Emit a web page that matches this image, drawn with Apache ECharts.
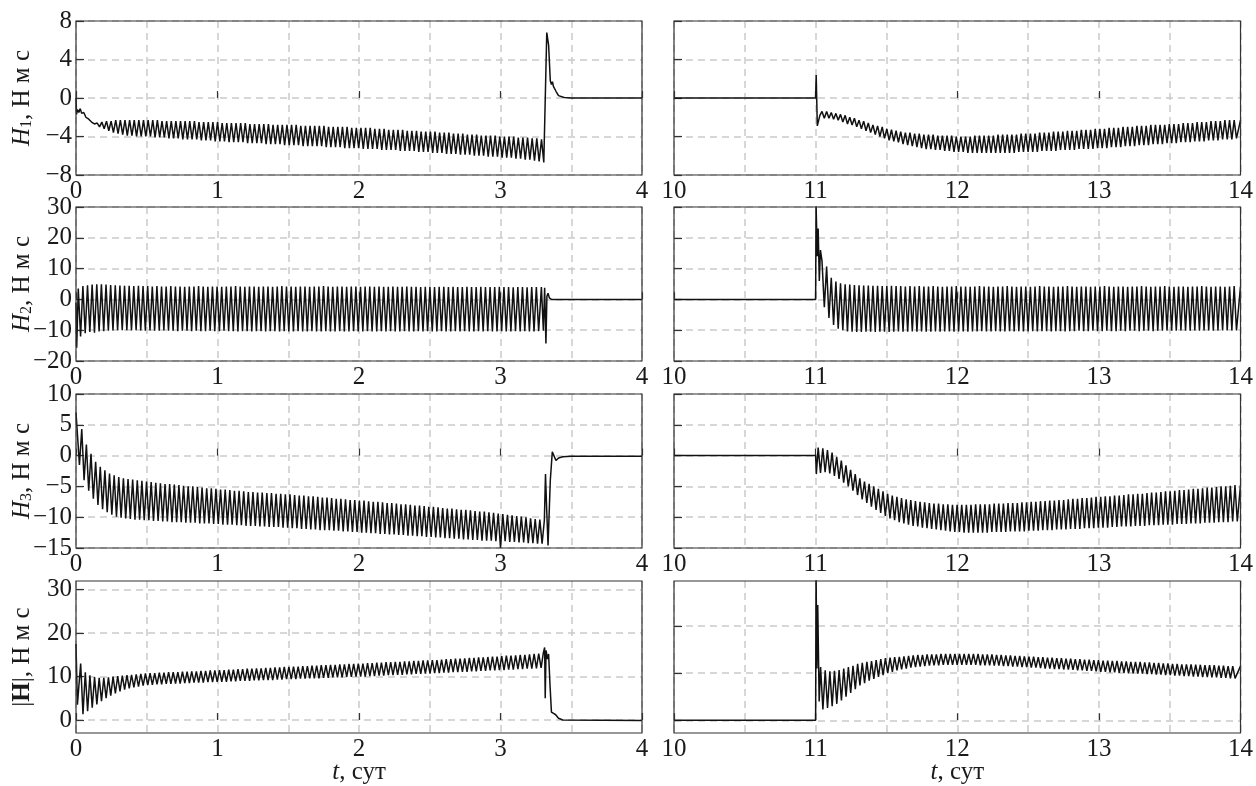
<!DOCTYPE html>
<html>
<head>
<meta charset="utf-8">
<script src="https://cdn.jsdelivr.net/npm/echarts@6/dist/echarts.min.js"></script>
<style>html,body{margin:0;padding:0;background:#fff}#c{width:1256px;height:786px}</style>
</head>
<body>
<div id="c"></div>
<script>
// ---- data ----
// sampling cycle of the oscillation peaks (days)
const cycle = 0.0327;

// H1, left (t = 0..4)
const h1LHead = [[0,0],[0.004,-1.7],[0.01,-1.2],[0.02,-1.5],[0.03,-1.1],[0.04,-1.6],[0.055,-1.5],[0.07,-2.0],[0.09,-2.2],[0.11,-2.5],[0.13,-2.7],[0.14,-2.8]];
const h1LStart = 0.15;
const h1LUp = [-2.6,-2.5,-2.4,-2.4,-2.3,-2.3,-2.3,-2.3,-2.3,-2.3,
 -2.3,-2.3,-2.3,-2.3,-2.4,-2.4,-2.4,-2.4,-2.4,-2.4,
 -2.4,-2.4,-2.5,-2.5,-2.5,-2.5,-2.5,-2.6,-2.6,-2.6,
 -2.6,-2.6,-2.6,-2.7,-2.7,-2.7,-2.7,-2.7,-2.8,-2.8,
 -2.8,-2.8,-2.8,-2.8,-2.9,-2.9,-2.9,-2.9,-2.9,-2.9,
 -3.0,-3.0,-3.0,-3.0,-3.0,-3.1,-3.1,-3.1,-3.1,-3.1,
 -3.2,-3.2,-3.2,-3.3,-3.3,-3.3,-3.3,-3.4,-3.4,-3.4,
 -3.5,-3.5,-3.5,-3.5,-3.6,-3.6,-3.6,-3.7,-3.7,-3.7,
 -3.8,-3.8,-3.8,-3.9,-3.9,-3.9,-3.9,-4.0,-4.0,-4.0,
 -4.0,-4.1,-4.1,-4.1,-4.2,-4.2];
const h1LLo = [-3.0,-3.2,-3.4,-3.6,-3.7,-3.8,-3.9,-3.9,-4.0,-4.0,
 -4.0,-4.0,-4.1,-4.1,-4.1,-4.2,-4.2,-4.2,-4.3,-4.3,
 -4.3,-4.3,-4.4,-4.4,-4.4,-4.5,-4.5,-4.5,-4.6,-4.6,
 -4.6,-4.6,-4.7,-4.7,-4.7,-4.7,-4.8,-4.8,-4.8,-4.8,
 -4.9,-4.9,-4.9,-4.9,-5.0,-5.0,-5.0,-5.0,-5.0,-5.1,
 -5.1,-5.1,-5.1,-5.2,-5.2,-5.2,-5.2,-5.3,-5.3,-5.3,
 -5.3,-5.4,-5.4,-5.4,-5.4,-5.5,-5.5,-5.5,-5.5,-5.6,
 -5.6,-5.6,-5.7,-5.7,-5.7,-5.8,-5.8,-5.8,-5.9,-5.9,
 -5.9,-6.0,-6.0,-6.0,-6.1,-6.1,-6.1,-6.2,-6.2,-6.2,
 -6.3,-6.3,-6.4,-6.4,-6.5,-6.6];
const h1LTail = [[3.29,-4.3],[3.306,-6.7],[3.316,-6.5],[3.327,6.8],[3.333,7.0],[3.34,5.5],[3.352,1.8],[3.36,1.4],[3.367,1.7],[3.374,1.2],[3.382,1.4],[3.392,0.7],[3.41,0.25],[3.45,0.05],[3.5,0],[4,0]];

// H1, right (t = 10..14)
const h1RHead = [[10,0],[11.0,0],[11.004,2.4],[11.012,-2.9],[11.03,-1.8]];
const h1RStart = 11.045;
const h1RUp = [-1.4,-1.4,-1.5,-1.6,-1.7,-1.8,-2.0,-2.1,-2.3,-2.4,
 -2.6,-2.8,-2.9,-3.0,-3.2,-3.3,-3.4,-3.5,-3.6,-3.6,
 -3.7,-3.7,-3.8,-3.8,-3.8,-3.9,-3.9,-3.9,-3.9,-4.0,
 -4.0,-4.0,-4.0,-3.9,-3.9,-3.9,-3.9,-3.9,-3.8,-3.8,
 -3.8,-3.8,-3.8,-3.7,-3.7,-3.7,-3.7,-3.6,-3.6,-3.6,
 -3.5,-3.5,-3.5,-3.4,-3.4,-3.4,-3.3,-3.3,-3.3,-3.2,
 -3.2,-3.2,-3.1,-3.1,-3.1,-3.0,-3.0,-3.0,-2.9,-2.9,
 -2.9,-2.8,-2.8,-2.8,-2.8,-2.7,-2.7,-2.7,-2.6,-2.6,
 -2.6,-2.5,-2.5,-2.5,-2.4,-2.4,-2.4,-2.3,-2.3,-2.3];
const h1RLo = [-2.1,-2.1,-2.2,-2.3,-2.5,-2.7,-2.8,-3.0,-3.2,-3.4,
 -3.6,-3.8,-4.0,-4.2,-4.4,-4.5,-4.6,-4.8,-4.9,-5.0,
 -5.1,-5.2,-5.3,-5.3,-5.4,-5.4,-5.5,-5.5,-5.6,-5.6,
 -5.6,-5.7,-5.7,-5.7,-5.7,-5.7,-5.7,-5.7,-5.7,-5.7,
 -5.7,-5.7,-5.6,-5.6,-5.6,-5.6,-5.6,-5.5,-5.5,-5.5,
 -5.5,-5.4,-5.4,-5.4,-5.4,-5.3,-5.3,-5.3,-5.3,-5.2,
 -5.2,-5.2,-5.1,-5.1,-5.1,-5.0,-5.0,-5.0,-4.9,-4.9,
 -4.9,-4.8,-4.8,-4.8,-4.7,-4.7,-4.7,-4.6,-4.6,-4.6,
 -4.5,-4.5,-4.5,-4.4,-4.4,-4.4,-4.3,-4.3,-4.3,-4.2];
const h1RTail = [[14.0,-2.3]];

// H2, left
const h2LHead = [[0,-1],[0.005,-15.7]];
const h2LStart = 0.016;
const h2LUp = [3.5,4.3,4.6,4.8,4.9,4.9,4.8,4.7,4.6,4.5,
 4.4,4.4,4.3,4.4,4.3,4.3,4.2,4.3,4.2,4.2,
 4.3,4.2,4.2,4.1,4.2,4.2,4.3,4.2,4.1,4.2,
 4.2,4.1,4.2,4.2,4.3,4.2,4.1,4.2,4.2,4.1,
 4.2,4.2,4.1,4.2,4.3,4.2,4.2,4.1,4.2,4.2,
 4.1,4.2,4.2,4.3,4.2,4.1,4.2,4.2,4.1,4.2,
 4.2,4.1,4.2,4.2,4.1,4.2,4.1,4.1,4.2,4.1,
 4.1,4.2,4.1,4.1,4.0,4.1,4.1,4.0,4.1,4.1,
 4.0,4.1,4.0,4.0,4.1,4.0,4.0,4.1,4.0,4.0,
 4.0,4.1,4.0,4.0,3.9,4.0,4.0,3.9,4.0,4.0];
const h2LLo = [-12.0,-11.0,-10.6,-10.8,-10.4,-10.3,-10.2,-10.1,-10.0,-10.0,
 -10.0,-10.1,-10.0,-10.1,-10.2,-10.1,-10.2,-10.2,-10.1,-10.2,
 -10.2,-10.3,-10.2,-10.2,-10.3,-10.2,-10.3,-10.3,-10.2,-10.3,
 -10.3,-10.2,-10.3,-10.3,-10.4,-10.3,-10.3,-10.4,-10.3,-10.3,
 -10.4,-10.3,-10.3,-10.4,-10.3,-10.4,-10.4,-10.3,-10.4,-10.4,
 -10.3,-10.4,-10.4,-10.3,-10.4,-10.4,-10.3,-10.4,-10.4,-10.3,
 -10.4,-10.4,-10.3,-10.4,-10.4,-10.3,-10.4,-10.3,-10.4,-10.4,
 -10.3,-10.4,-10.4,-10.3,-10.4,-10.3,-10.4,-10.4,-10.3,-10.4,
 -10.4,-10.3,-10.4,-10.3,-10.4,-10.4,-10.3,-10.4,-10.3,-10.4,
 -10.4,-10.3,-10.4,-10.4,-10.3,-10.4,-10.3,-10.4,-10.4,-10.3];
const h2LTail = [[3.289,4.0],[3.303,-10.2],[3.312,3.8],[3.321,-14.3],[3.328,1.0],[3.336,2.0],[3.345,0.5],[3.36,0],[4,0]];

// H2, right
const h2RHead = [[10,0],[11.0,0],[11.003,31],[11.012,14],[11.018,23],[11.026,6],[11.034,16]];
const h2RStart = 11.045;
const h2RUp = [12.5,10.7,7.0,5.8,5.2,4.9,4.8,4.7,4.6,4.5,
 4.5,4.4,4.4,4.3,4.3,4.4,4.3,4.3,4.2,4.3,
 4.2,4.3,4.2,4.2,4.3,4.2,4.1,4.2,4.2,4.3,
 4.2,4.2,4.1,4.2,4.3,4.2,4.2,4.1,4.2,4.2,
 4.3,4.2,4.1,4.2,4.2,4.1,4.2,4.3,4.2,4.2,
 4.1,4.2,4.2,4.3,4.2,4.1,4.2,4.2,4.1,4.2,
 4.2,4.3,4.2,4.1,4.2,4.2,4.1,4.2,4.2,4.3,
 4.2,4.1,4.2,4.2,4.3,4.2,4.1,4.2,4.2,4.1,
 4.2,4.2,4.3,4.2,4.1,4.2,4.2,4.1,4.2,4.3];
const h2RLo = [-2.5,-6.0,-8.3,-9.5,-10.0,-10.4,-10.5,-10.6,-10.6,-10.5,
 -10.5,-10.6,-10.5,-10.5,-10.6,-10.5,-10.4,-10.5,-10.5,-10.4,
 -10.5,-10.4,-10.5,-10.5,-10.4,-10.5,-10.4,-10.4,-10.5,-10.4,
 -10.4,-10.5,-10.4,-10.4,-10.3,-10.4,-10.4,-10.3,-10.4,-10.4,
 -10.3,-10.4,-10.3,-10.4,-10.4,-10.3,-10.4,-10.3,-10.3,-10.4,
 -10.3,-10.3,-10.4,-10.3,-10.3,-10.2,-10.3,-10.3,-10.2,-10.3,
 -10.3,-10.2,-10.3,-10.3,-10.2,-10.3,-10.2,-10.2,-10.3,-10.2,
 -10.2,-10.3,-10.2,-10.2,-10.1,-10.2,-10.2,-10.1,-10.2,-10.2,
 -10.1,-10.2,-10.1,-10.1,-10.2,-10.1,-10.1,-10.0,-10.1,-10.1];
const h2RTail = [[14.0,4.2]];

// H3, left
const h3LHead = [[0,7.0]];
const h3LStart = 0.008;
const h3LUp = [7.3,4.3,1.8,0.3,-1.0,-1.8,-2.4,-2.9,-3.2,-3.5,
 -3.7,-3.8,-3.9,-4.0,-4.1,-4.2,-4.3,-4.4,-4.5,-4.6,
 -4.6,-4.7,-4.8,-4.9,-5.0,-5.0,-5.1,-5.2,-5.3,-5.3,
 -5.4,-5.5,-5.5,-5.6,-5.7,-5.7,-5.8,-5.9,-5.9,-6.0,
 -6.0,-6.1,-6.1,-6.2,-6.2,-6.3,-6.3,-6.4,-6.5,-6.5,
 -6.6,-6.6,-6.7,-6.8,-6.8,-6.9,-7.0,-7.0,-7.1,-7.2,
 -7.2,-7.3,-7.3,-7.4,-7.5,-7.5,-7.6,-7.7,-7.7,-7.8,
 -7.9,-7.9,-8.0,-8.1,-8.1,-8.2,-8.3,-8.3,-8.4,-8.5,
 -8.6,-8.6,-8.7,-8.8,-8.8,-8.9,-9.0,-9.1,-9.1,-9.2,
 -9.3,-9.4,-9.5,-9.6,-9.7,-9.8,-9.9,-10.0,-10.2,-10.3];
const h3LLo = [-1.5,-4.0,-5.7,-7.0,-8.0,-8.7,-9.2,-9.6,-9.9,-10.1,
 -10.2,-10.3,-10.4,-10.4,-10.5,-10.5,-10.6,-10.6,-10.7,-10.7,
 -10.8,-10.8,-10.8,-10.9,-10.9,-10.9,-11.0,-11.0,-11.0,-11.1,
 -11.1,-11.2,-11.2,-11.2,-11.3,-11.3,-11.4,-11.4,-11.4,-11.5,
 -11.5,-11.6,-11.6,-11.6,-11.7,-11.7,-11.8,-11.8,-11.9,-11.9,
 -12.0,-12.0,-12.1,-12.1,-12.1,-12.2,-12.2,-12.3,-12.3,-12.4,
 -12.4,-12.5,-12.5,-12.6,-12.6,-12.7,-12.7,-12.8,-12.8,-12.9,
 -12.9,-13.0,-13.0,-13.1,-13.1,-13.2,-13.2,-13.3,-13.3,-13.4,
 -13.4,-13.5,-13.5,-13.6,-13.6,-13.7,-13.7,-13.8,-13.8,-13.8,
 -13.9,-15.0,-13.9,-14.0,-14.0,-14.1,-14.1,-14.2,-14.2,-14.3];
const h3LTail = [[3.278,-10.4],[3.294,-14.3],[3.31,-10.5],[3.318,-3.0],[3.326,-8.5],[3.336,-14.6],[3.352,-4],[3.366,0.6],[3.378,0.3],[3.392,-0.8],[3.41,-0.4],[3.44,-0.2],[3.5,-0.1],[4,-0.1]];

// H3, right
const h3RHead = [[10,0],[11.0,0],[11.005,-3.0]];
const h3RStart = 11.018;
const h3RUp = [1.3,1.2,0.9,0.5,-0.2,-0.8,-1.6,-2.3,-3.0,-3.7,
 -4.2,-4.6,-5.0,-5.4,-5.8,-6.2,-6.5,-6.7,-6.9,-7.1,
 -7.2,-7.4,-7.5,-7.6,-7.7,-7.8,-7.8,-7.9,-7.9,-8.0,
 -8.0,-8.0,-8.0,-8.0,-7.9,-7.9,-7.9,-7.9,-7.8,-7.8,
 -7.8,-7.7,-7.7,-7.7,-7.6,-7.6,-7.5,-7.5,-7.4,-7.4,
 -7.3,-7.3,-7.2,-7.2,-7.1,-7.0,-7.0,-6.9,-6.9,-6.8,
 -6.7,-6.7,-6.6,-6.6,-6.5,-6.5,-6.4,-6.3,-6.3,-6.2,
 -6.2,-6.1,-6.0,-6.0,-5.9,-5.8,-5.8,-5.7,-5.6,-5.6,
 -5.5,-5.4,-5.4,-5.3,-5.2,-5.2,-5.1,-5.0,-5.0,-4.9,-4.8];
const h3RLo = [-2.8,-2.7,-2.9,-3.3,-3.8,-4.4,-5.0,-5.7,-6.4,-7.1,
 -7.7,-8.3,-8.8,-9.3,-9.8,-10.2,-10.5,-10.8,-11.0,-11.2,
 -11.4,-11.5,-11.7,-11.8,-11.9,-12.0,-12.1,-12.2,-12.3,-12.4,
 -12.4,-12.5,-12.5,-12.5,-12.5,-12.5,-12.5,-12.4,-12.4,-12.4,
 -12.4,-12.3,-12.3,-12.3,-12.3,-12.2,-12.2,-12.2,-12.1,-12.1,
 -12.1,-12.0,-12.0,-12.0,-11.9,-11.9,-11.9,-11.8,-11.8,-11.8,
 -11.7,-11.7,-11.7,-11.6,-11.6,-11.5,-11.5,-11.5,-11.4,-11.4,
 -11.4,-11.3,-11.3,-11.3,-11.2,-11.2,-11.2,-11.1,-11.1,-11.1,
 -11.0,-11.0,-11.0,-10.9,-10.9,-10.9,-10.8,-10.8,-10.8,-10.7,-10.7];
const h3RTail = [[14.0,-4.8]];

// |H|, left
const hmLHead = [[0,17.5],[0.01,3.5]];
const hmLStart = 0.033;
const hmLUp = [13.0,11.0,10.3,9.9,9.7,9.7,9.8,10.0,10.1,10.2,
 10.3,10.4,10.5,10.6,10.7,10.8,10.8,10.9,10.9,11.0,
 11.0,11.0,11.1,11.1,11.2,11.2,11.3,11.3,11.4,11.4,
 11.5,11.5,11.6,11.6,11.7,11.7,11.8,11.8,11.9,11.9,
 12.0,12.0,12.1,12.1,12.2,12.2,12.3,12.3,12.4,12.4,
 12.5,12.5,12.6,12.6,12.7,12.7,12.8,12.8,12.9,12.9,
 13.0,13.0,13.1,13.1,13.2,13.2,13.3,13.3,13.4,13.4,
 13.5,13.5,13.6,13.6,13.7,13.7,13.8,13.8,13.9,14.0,
 14.0,14.1,14.1,14.2,14.3,14.3,14.4,14.4,14.5,14.6,
 14.6,14.7,14.8,14.8,14.9,15.0,15.0,15.1,15.2];
const hmLLo = [1.3,2.0,2.8,3.6,4.3,5.0,5.6,6.1,6.6,7.0,
 7.3,7.5,7.7,7.9,8.0,8.1,8.2,8.2,8.3,8.3,
 8.4,8.4,8.5,8.5,8.6,8.6,8.6,8.7,8.7,8.8,
 8.8,8.8,8.9,8.9,9.0,9.0,9.0,9.1,9.1,9.2,
 9.2,9.2,9.3,9.3,9.4,9.4,9.4,9.5,9.5,9.6,
 9.6,9.6,9.7,9.7,9.8,9.8,9.8,9.9,9.9,10.0,
 10.0,10.0,10.1,10.1,10.2,10.2,10.3,10.3,10.4,10.4,
 10.5,10.5,10.6,10.6,10.7,10.7,10.8,10.8,10.9,10.9,
 11.0,11.0,11.1,11.1,11.2,11.2,11.3,11.3,11.4,11.4,
 11.5,11.5,11.6,11.6,11.7,11.7,11.8,11.8,11.9];
const hmLTail = [[3.27,15.3],[3.287,12.0],[3.303,15.5],[3.312,16.7],[3.316,5.0],[3.322,16.0],[3.332,14.0],[3.34,15.2],[3.35,8],[3.36,1.8],[3.375,1.5],[3.39,1.2],[3.41,0.4],[3.44,0],[4,-0.1]];

// |H|, right
const hmRHead = [[10,0],[11.0,0],[11.003,32],[11.009,11],[11.015,24.5],[11.025,4]];
const hmRStart = 11.035;
const hmRUp = [11.3,10.6,10.4,10.5,10.7,11.0,11.3,11.6,12.0,12.2,
 12.4,12.6,12.8,13.0,13.2,13.3,13.4,13.5,13.6,13.7,
 13.8,13.9,13.9,14.0,14.0,14.0,14.1,14.1,14.1,14.1,
 14.1,14.1,14.1,14.1,14.1,14.0,14.0,14.0,13.9,13.9,
 13.8,13.8,13.7,13.7,13.6,13.5,13.5,13.4,13.4,13.3,
 13.3,13.2,13.2,13.1,13.1,13.0,13.0,12.9,12.9,12.8,
 12.8,12.7,12.7,12.6,12.6,12.5,12.5,12.4,12.4,12.4,
 12.3,12.3,12.2,12.2,12.1,12.1,12.0,12.0,11.9,11.9,
 11.9,11.8,11.8,11.7,11.7,11.7,11.6,11.6,11.5,11.5];
const hmRLo = [2.3,2.6,3.0,3.5,4.2,5.0,5.8,6.6,7.4,7.9,
 8.4,8.8,9.2,9.6,10.0,10.3,10.6,10.8,11.0,11.2,
 11.3,11.4,11.5,11.6,11.7,11.7,11.8,11.8,11.8,11.8,
 11.8,11.8,11.8,11.8,11.7,11.7,11.7,11.6,11.6,11.5,
 11.5,11.4,11.4,11.3,11.3,11.2,11.2,11.1,11.0,11.0,
 10.9,10.9,10.8,10.8,10.7,10.6,10.6,10.5,10.5,10.4,
 10.3,10.3,10.2,10.2,10.1,10.1,10.0,10.0,9.9,9.9,
 9.8,9.8,9.7,9.7,9.6,9.6,9.5,9.5,9.4,9.4,
 9.3,9.3,9.2,9.2,9.1,9.1,9.0,9.0,8.9,8.9];
const hmRTail = [[14.0,11.5]];

// axis ranges and tick labels
const xRangeL = [0, 4];
const xRangeR = [10, 14];
const yRanges = [[-8, 8], [-20, 30], [-15, 10], [-3, 32]];
const yRangeHmR = [-2.7, 29.6];
const yTicks = [[-8,-4,0,4,8], [-20,-10,0,10,20,30], [-15,-10,-5,0,5,10], [0,10,20,30]];
const yTicksHmR = [0,10,20];
const yNames = ['{i|H}{s|1}{n|, Н м с}', '{i|H}{s|2}{n|, Н м с}', '{i|H}{s|3}{n|, Н м с}', '{n||}{b|H}{n||, Н м с}'];
const xName = '{i|t}{n|, сут}';

// ---- build ----
function build(head, start, up, lo, tail) {
  const d = head.slice();
  for (let i = 0; i < up.length; i++) {
    d.push([start + i * cycle, up[i]]);
    d.push([start + (i + 0.5) * cycle, lo[i]]);
  }
  return d.concat(tail);
}
const seriesData = [
  build(h1LHead, h1LStart, h1LUp, h1LLo, h1LTail),
  build(h1RHead, h1RStart, h1RUp, h1RLo, h1RTail),
  build(h2LHead, h2LStart, h2LUp, h2LLo, h2LTail),
  build(h2RHead, h2RStart, h2RUp, h2RLo, h2RTail),
  build(h3LHead, h3LStart, h3LUp, h3LLo, h3LTail),
  build(h3RHead, h3RStart, h3RUp, h3RLo, h3RTail),
  build(hmLHead, hmLStart, hmLUp, hmLLo, hmLTail),
  build(hmRHead, hmRStart, hmRUp, hmRLo, hmRTail)
];

const FONT = 'Liberation Serif';
const INK = '#1a1a1a';
const GRIDC = '#cacaca';
const dash = {type: [7, 5], color: GRIDC, width: 1.5};
const tops = [21, 207, 394, 581];
const lefts = [76, 674];
const widths = [566, 568];
const H = 154;
const rich = {
  i: {fontFamily: FONT, fontStyle: 'italic', fontSize: 25, color: INK},
  s: {fontFamily: FONT, fontSize: 16, color: INK, verticalAlign: 'bottom'},
  b: {fontFamily: FONT, fontWeight: 'bold', fontSize: 25, color: INK},
  n: {fontFamily: FONT, fontSize: 25, color: INK}
};
const minus = v => String(v).replace('-', '\u2212');

const grid = [], xAxis = [], yAxis = [], series = [];
for (let g = 0; g < 8; g++) {
  const row = Math.floor(g / 2), col = g % 2;
  grid.push({left: lefts[col], top: tops[row], width: widths[col], height: H,
    show: true, borderColor: '#333', borderWidth: 1.2, backgroundColor: 'transparent', z: 3});
  const xr = col ? xRangeR : xRangeL;
  xAxis.push({type: 'value', gridIndex: g, min: xr[0], max: xr[1], interval: 1, position: 'bottom',
    axisLine: {show: false},
    axisTick: {show: true, inside: true, length: 7, lineStyle: {color: '#333', width: 1.2}},
    axisLabel: {show: true, margin: 4, fontFamily: FONT, fontSize: 25, color: INK},
    splitLine: {show: false},
    name: row === 3 ? xName : '', nameLocation: 'middle', nameGap: 27, nameMoveOverlap: false,
    nameTextStyle: {fontFamily: FONT, fontSize: 25, color: INK, rich: rich}});
  xAxis.push({type: 'value', gridIndex: g, min: xr[0], max: xr[1], interval: 0.5, position: 'top',
    axisLine: {show: false}, axisTick: {show: false}, axisLabel: {show: false},
    splitLine: {show: true, lineStyle: dash}});
  const isHmR = (row === 3 && col === 1);
  const yr = isHmR ? yRangeHmR : yRanges[row];
  const yt = isHmR ? yTicksHmR : yTicks[row];
  yAxis.push({type: 'value', gridIndex: g, min: yr[0], max: yr[1], position: 'left',
    axisLine: {show: false},
    axisTick: {show: true, inside: true, length: 8, customValues: yt, lineStyle: {color: '#333', width: 1.2}},
    axisLabel: {show: col === 0, customValues: yt, margin: 4, fontFamily: FONT, fontSize: 25, color: INK, formatter: minus},
    splitLine: {show: true, lineStyle: dash},
    name: col === 0 ? yNames[row] : '', nameLocation: 'middle', nameGap: 41, nameMoveOverlap: false,
    nameTextStyle: {fontFamily: FONT, fontSize: 25, color: INK, rich: rich}});
  series.push({type: 'line', xAxisIndex: 2 * g, yAxisIndex: g, data: seriesData[g],
    showSymbol: false, symbol: 'none', sampling: null, clip: true, animation: false,
    lineStyle: {color: '#111', width: 1.5}, z: 2});
}

const chart = echarts.init(document.getElementById('c'), null, {renderer: 'canvas'});
chart.setOption({animation: false, backgroundColor: '#fff', grid, xAxis, yAxis, series});
</script>
</body>
</html>
